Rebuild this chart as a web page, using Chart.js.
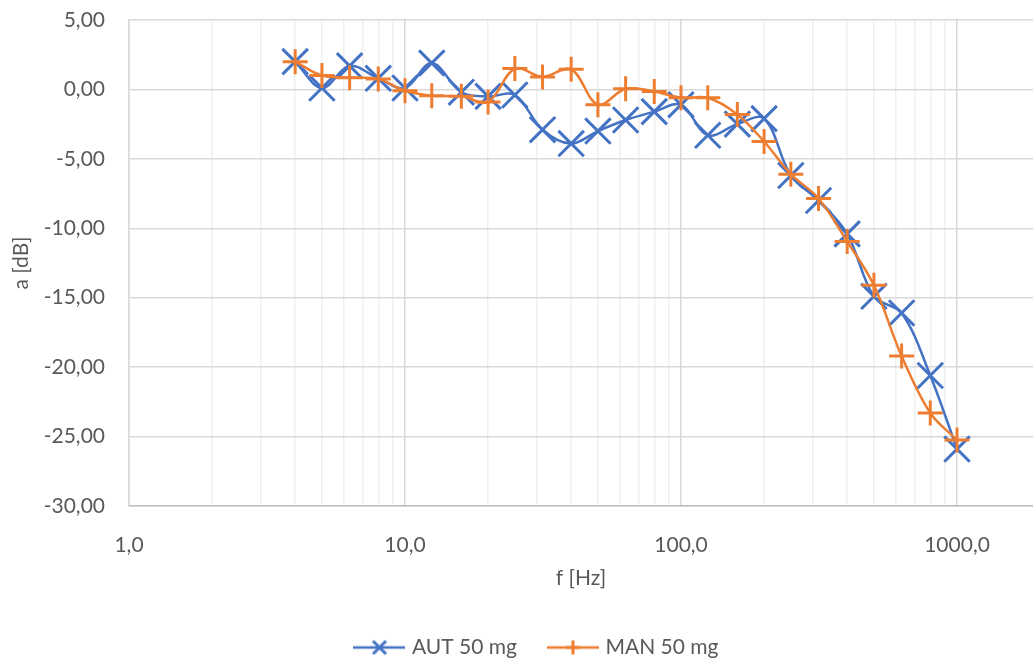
<!DOCTYPE html>
<html>
<head>
<meta charset="utf-8">
<script src="https://cdn.jsdelivr.net/npm/chart.js@4"></script>
<style>
  body { margin: 0; background: #fff; }
  canvas { display: block; }
</style>
</head>
<body>
<canvas id="chart" width="1033" height="660"></canvas>
<script>
// frequencies (Hz), third-octave bands
var freq = [4, 5, 6.3, 8, 10, 12.5, 16, 20, 25, 31.5, 40, 50, 63, 80, 100, 125, 160, 200, 250, 315, 400, 500, 630, 800, 1000];
// attenuation a [dB]
var aut = [2.0, 0.1, 1.7, 0.8, 0.1, 1.9, -0.2, -0.5, -0.4, -2.9, -3.9, -3.0, -2.2, -1.6, -1.1, -3.3, -2.5, -2.1, -6.2, -8.0, -10.4, -14.9, -16.1, -20.6, -25.9];
var man = [2.0, 1.0, 0.85, 0.75, -0.1, -0.45, -0.5, -0.9, 1.5, 0.9, 1.45, -1.1, 0.05, -0.15, -0.6, -0.6, -1.8, -3.75, -6.1, -7.85, -10.95, -14.1, -19.2, -23.3, -25.25];
// x gridlines: 1..9, 10..90, 100..900, 1000
var xTicks = [1,2,3,4,5,6,7,8,9,10,20,30,40,50,60,70,80,90,100,200,300,400,500,600,700,800,900,1000];

var blue = '#4472C4';
var orange = '#ED7D31';
var txt = '#595959';
var font = { family: 'Lato', size: 21 };

function isDecade(v) {
  var l = Math.log10(v);
  return Math.abs(l - Math.round(l)) < 1e-9;
}

function pts(arr) {
  return arr.map(function (v, i) { return { x: freq[i], y: v }; });
}

// legend symbol: line with marker
function legendIcon(color, rot) {
  var c = document.createElement('canvas');
  c.width = 52; c.height = 20;
  var g = c.getContext('2d');
  g.strokeStyle = color;
  g.lineWidth = 2.5;
  g.beginPath(); g.moveTo(0, 10); g.lineTo(52, 10); g.stroke();
  g.lineWidth = 3;
  g.beginPath();
  if (rot) {
    g.moveTo(19.5, 3.5); g.lineTo(32.5, 16.5);
    g.moveTo(32.5, 3.5); g.lineTo(19.5, 16.5);
  } else {
    g.moveTo(26, 3); g.lineTo(26, 17);
    g.moveTo(19, 10); g.lineTo(33, 10);
  }
  g.stroke();
  return c;
}
var icons = [legendIcon(blue, true), legendIcon(orange, false)];

var ctx = document.getElementById('chart');
var chart = new Chart(ctx, {
  type: 'line',
  data: {
    datasets: [
      {
        label: 'AUT 50 mg',
        data: pts(aut),
        borderColor: blue,
        backgroundColor: blue,
        borderWidth: 2.5,
        pointStyle: 'crossRot',
        pointRadius: 18,
        pointBorderWidth: 3,
        pointBorderColor: blue,
        tension: 0.35,
        fill: false,
        order: 2
      },
      {
        label: 'MAN 50 mg',
        data: pts(man),
        borderColor: orange,
        backgroundColor: orange,
        borderWidth: 2.5,
        pointStyle: 'cross',
        pointRadius: 12.5,
        pointBorderWidth: 3,
        pointBorderColor: orange,
        tension: 0.35,
        fill: false,
        order: 1
      }
    ]
  },
  options: {
    responsive: false,
    animation: false,
    layout: { autoPadding: false, padding: { left: 43, right: 0, top: 20, bottom: -8 } },
    plugins: {
      tooltip: { enabled: false },
      legend: {
        position: 'bottom',
        labels: {
          usePointStyle: true,
          pointStyleWidth: 44,
          padding: 34,
          color: txt,
          font: font,
          sort: function (a, b) { return a.datasetIndex - b.datasetIndex; },
          generateLabels: function (chart) {
            var items = Chart.defaults.plugins.legend.labels.generateLabels(chart);
            items.forEach(function (it) { it.pointStyle = icons[it.datasetIndex]; });
            return items;
          }
        }
      }
    },
    scales: {
      x: {
        type: 'logarithmic',
        min: 1,
        max: 1885,
        afterBuildTicks: function (axis) {
          axis.ticks = xTicks.map(function (v) { return { value: v }; });
        },
        afterFit: function (axis) {
          axis.height = 97;
          axis.paddingLeft = 0;
          axis.paddingRight = 0;
        },
        ticks: {
          autoSkip: false,
          maxRotation: 0,
          padding: 27,
          color: txt,
          font: font,
          callback: function (v) {
            return isDecade(v) ? v.toFixed(1).replace('.', ',') : '';
          }
        },
        grid: {
          drawTicks: false,
          lineWidth: 1.5,
          color: function (c) {
            return c.tick && isDecade(c.tick.value) ? '#d9d9d9' : '#efefef';
          }
        },
        border: { color: '#bfbfbf', width: 1.5 },
        title: {
          display: true,
          text: 'f [Hz]',
          color: txt,
          font: font,
          padding: { top: 0, bottom: 12.4 }
        }
      },
      y: {
        min: -30,
        max: 5,
        afterFit: function (axis) {
          axis.width = 86;
          axis.paddingTop = 0;
          axis.paddingBottom = 0;
        },
        ticks: {
          stepSize: 5,
          padding: 24,
          color: txt,
          font: font,
          callback: function (v) { return v.toFixed(2).replace('.', ','); }
        },
        grid: { drawTicks: false, color: '#d9d9d9', lineWidth: 1.5 },
        border: { color: '#d9d9d9', width: 1.5 },
        title: {
          display: true,
          text: 'a [dB]',
          color: txt,
          font: font,
          padding: { top: -34.6, bottom: 0 }
        }
      }
    }
  }
});
</script>
</body>
</html>
